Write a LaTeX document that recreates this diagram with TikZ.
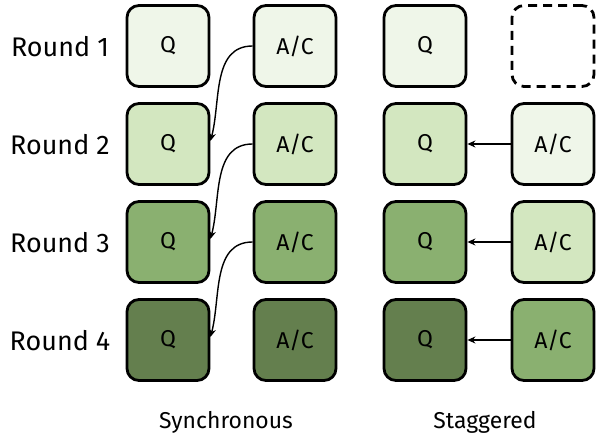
\documentclass[tikz,border=0pt]{standalone}
\usepackage{fontspec}
\setmainfont{Fira Sans}
\usetikzlibrary{arrows.meta}
\definecolor{cA}{HTML}{EFF6E9}
\definecolor{cB}{HTML}{D3E7C0}
\definecolor{cC}{HTML}{8AB070}
\definecolor{cD}{HTML}{647F4E}
\begin{document}
\begin{tikzpicture}[x=1bp,y=-1bp,
  box/.style={draw=black,line width=2.8bp,rounded corners=12bp,minimum width=82bp,minimum height=81bp,inner sep=0pt,font=\fontsize{23}{26}\selectfont},
  emptybox/.style={box,dash pattern=on 9bp off 6bp},
  lbl/.style={font=\fontsize{27}{30}\selectfont,anchor=center},
  captext/.style={font=\fontsize{23}{26}\selectfont},
  arr/.style={-{Stealth[length=8bp,width=7bp]},line width=1.4bp}]
\useasboundingbox (0,0) rectangle (598,438);
% labels
\node[lbl] (r1) at (60,47) {Round 1};
\node[lbl] (r2) at (60,145) {Round 2};
\node[lbl] (r3) at (60,243) {Round 3};
\node[lbl] (r4) at (60,341) {Round 4};
% synchronous
\node[box,fill=cA] (q1) at (168,46) {Q};
\node[box,fill=cB] (q2) at (168,144) {Q};
\node[box,fill=cC] (q3) at (168,242) {Q};
\node[box,fill=cD] (q4) at (168,340) {Q};
\node[box,fill=cA] (a1) at (295,46) {A/C};
\node[box,fill=cB] (a2) at (295,144) {A/C};
\node[box,fill=cC] (a3) at (295,242) {A/C};
\node[box,fill=cD] (a4) at (295,340) {A/C};
\draw[arr] (a1.west) to[out=180,in=75] ([yshift=3bp]q2.east);
\draw[arr] (a2.west) to[out=180,in=75] ([yshift=3bp]q3.east);
\draw[arr] (a3.west) to[out=180,in=75] ([yshift=3bp]q4.east);
% staggered
\node[box,fill=cA] (s1) at (425,46) {Q};
\node[box,fill=cB] (s2) at (425,144) {Q};
\node[box,fill=cC] (s3) at (425,242) {Q};
\node[box,fill=cD] (s4) at (425,340) {Q};
\node[emptybox] (t1) at (553,46) {};
\node[box,fill=cA] (t2) at (553,144) {A/C};
\node[box,fill=cB] (t3) at (553,242) {A/C};
\node[box,fill=cC] (t4) at (553,340) {A/C};
\draw[arr] (t2.west) -- (s2.east);
\draw[arr] (t3.west) -- (s3.east);
\draw[arr] (t4.west) -- (s4.east);
% captions
\node[captext] (c1) at (226,422) {Synchronous};
\node[captext] (c2) at (485,422) {Staggered};
\end{tikzpicture}
\end{document}
